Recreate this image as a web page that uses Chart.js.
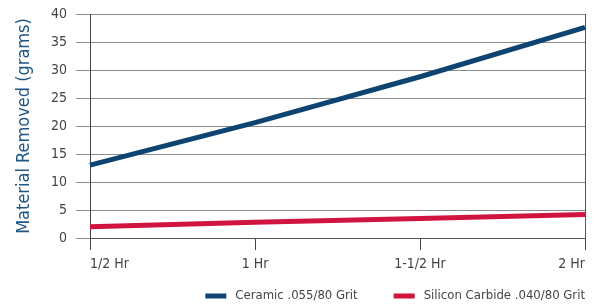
<!DOCTYPE html>
<html>
<head>
<meta charset="utf-8">
<script src="https://cdn.jsdelivr.net/npm/chart.js@4"></script>
<style>
  html, body { margin: 0; padding: 0; background: #fff; }
  #wrap { width: 594px; height: 308px; }
</style>
</head>
<body>
<div id="wrap"><canvas id="stage" width="594" height="308"></canvas></div>
<script>
// data
var timeLabels = ['1/2 Hr', '1 Hr', '1-1/2 Hr', '2 Hr'];
var ceramic = [13, 20.6, 28.8, 37.6];
var siliconCarbide = [2, 2.8, 3.5, 4.2];

var font = "'Liberation Sans Narrow', 'DejaVu Sans Condensed', Roboto, sans-serif";

// legend drawn under the plot, right aligned to the plot edge
var bottomLegend = {
  id: 'bottomLegend',
  afterDraw: function(chart) {
    var ctx = chart.ctx;
    var sets = chart.data.datasets;
    var y = 296;
    var boxW = 21, boxH = 5, gapText = 9, gapItem = 36;
    ctx.save();
    ctx.font = '13px ' + font;
    ctx.textBaseline = 'middle';
    ctx.textAlign = 'left';
    var widths = sets.map(function(ds) { return boxW + gapText + ctx.measureText(ds.label).width; });
    var total = widths.reduce(function(a, b) { return a + b; }, 0) + gapItem * (sets.length - 1);
    var x = chart.chartArea.right - total;
    sets.forEach(function(ds, i) {
      ctx.fillStyle = ds.borderColor;
      ctx.fillRect(x, y - boxH / 2, boxW, boxH);
      ctx.fillStyle = '#444';
      ctx.fillText(ds.label, x + boxW + gapText, y);
      x += widths[i] + gapItem;
    });
    ctx.restore();
  }
};

var mydata = {
  labels: timeLabels,
  datasets: [
    {
      label: 'Ceramic .055/80 Grit',
      data: ceramic,
      borderColor: '#0d4471',
      backgroundColor: '#0d4471',
      borderWidth: 5,
      pointRadius: 0,
      tension: 0
    },
    {
      label: 'Silicon Carbide .040/80 Grit',
      data: siliconCarbide,
      borderColor: '#d0143f',
      backgroundColor: '#d0143f',
      borderWidth: 5,
      pointRadius: 0,
      tension: 0
    }
  ]
};

var options = {
  responsive: false,
  animation: false,
  layout: { padding: { left: 0, right: 9, top: 14, bottom: 34 } },
  plugins: {
    legend: { display: false },
    tooltip: { enabled: false }
  },
  scales: {
    x: {
      offset: false,
      grid: {
        drawOnChartArea: false,
        drawTicks: true,
        tickLength: 12,
        color: '#444'
      },
      border: { display: true, color: '#555', width: 1 },
      ticks: {
        color: '#444',
        padding: 6,
        maxRotation: 0,
        align: 'inner',
        font: { family: font, size: 14 }
      },
      afterFit: function(scale) {
        scale.height = 36;
        scale.paddingLeft = 0;
        scale.paddingRight = 0;
      }
    },
    y: {
      min: 0,
      max: 40,
      ticks: {
        stepSize: 5,
        color: '#444',
        padding: 9,
        font: { family: font, size: 14 }
      },
      grid: {
        color: '#8a8a8a',
        tickLength: 14
      },
      border: { display: true, color: '#444', width: 1 },
      title: {
        display: true,
        text: 'Material Removed (grams)',
        color: '#1f5683',
        padding: { top: 14, bottom: 0 },
        font: { family: font, size: 18 }
      },
      afterFit: function(scale) {
        scale.width = 90;
        scale.paddingTop = 0;
        scale.paddingBottom = 0;
      }
    },
    y2: {
      position: 'right',
      min: 0,
      max: 40,
      ticks: { display: false },
      grid: { display: false },
      border: { display: true, color: '#555', width: 1 },
      afterFit: function(scale) { scale.width = 0; }
    }
  }
};

var canvas = document.getElementById('stage');
var chart = new Chart(canvas, {
  type: 'line',
  data: mydata,
  options: options,
  plugins: [bottomLegend]
});
</script>
</body>
</html>
